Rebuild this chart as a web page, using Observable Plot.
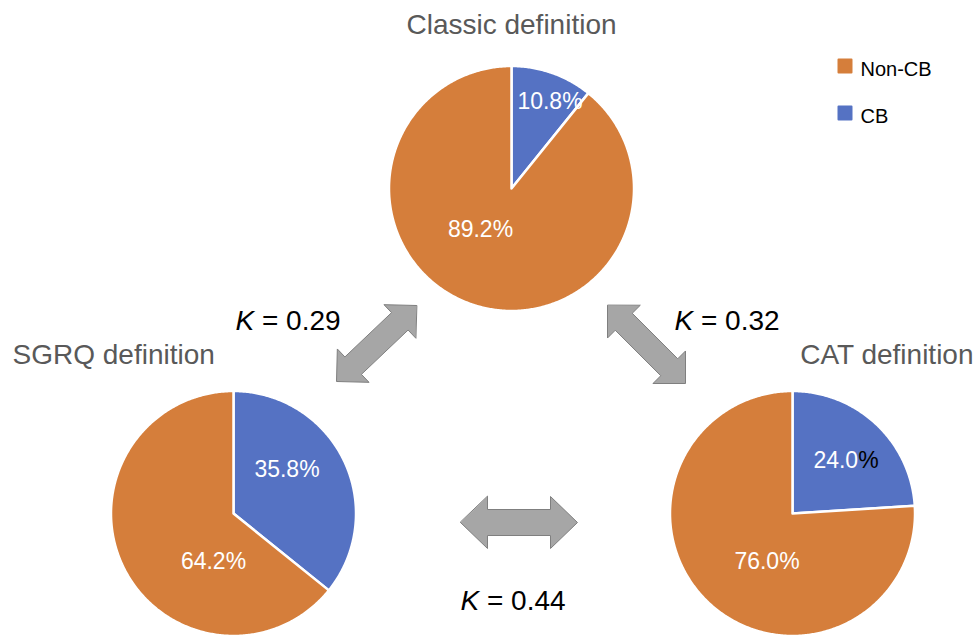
<!DOCTYPE html>
<html>
<head>
<meta charset="utf-8">
<script src="https://cdn.jsdelivr.net/npm/d3@7"></script>
<script src="https://cdn.jsdelivr.net/npm/@observablehq/plot@0.6"></script>
<style>
  html, body { margin: 0; padding: 0; background: #fff; }
  #chart svg { display: block; }
</style>
</head>
<body>
<div id="chart"></div>
<script>
// ---------- data ----------
const definitions = ["Classic definition", "SGRQ definition", "CAT definition"];
const categories = ["CB", "Non-CB"];
const cbPercent = [10.8, 35.8, 24.0];
const nonCbPercent = [89.2, 64.2, 76.0];
const kappaValues = ["0.29", "0.32", "0.44"];
const legendLabels = ["Non-CB", "CB"];

// ---------- layout ----------
const colors = {"CB": "#5572C3", "Non-CB": "#D57E3B"};
const FONT = "'Liberation Sans', Arial, Helvetica, sans-serif";
const R = 122.5;
const pieCenters = [[511, 188], [233, 513], [792, 513]];
// label anchors (visual centers) [CB, Non-CB] per pie
const labelPos = [
  [[549.5, 101.6], [480, 229.6]],
  [[286.5, 469.6], [213, 561.6]],
  [[845.5, 460.6], [766.5, 561.6]]
];
const splitPercent = [[false, false], [false, false], [true, false]]; // black "%" on CAT CB label
const titlePos = [
  {x: 511, y: 24.2, anchor: "middle"},
  {x: 12, y: 354.2, anchor: "start"},
  {x: 973, y: 354.2, anchor: "end"}
];
const kappaPos = [[235, 321], [674, 321], [460, 601]];
const arrows = [
  {p0: [416, 305], p1: [336, 381], hl: 23, hh: 23, sh: 12},
  {p0: [607, 305], p1: [685, 383], hl: 23, hh: 23, sh: 12},
  {p0: [460, 522], p1: [577, 522], hl: 27, hh: 26, sh: 13}
];
const legendPos = [[837, 58], [837, 105]]; // top-left of squares
const LABEL_FS = 23, TITLE_FS = 28, K_FS = 28, LEG_FS = 20;

// ---------- geometry ----------
function slicePolygon(cx, cy, r, a0, a1) {
  const ring = [[cx, cy]];
  const n = Math.max(2, Math.ceil((a1 - a0) / 0.01));
  for (let i = 0; i <= n; i++) {
    const a = a0 + (a1 - a0) * i / n;
    ring.push([cx + r * Math.sin(a), cy - r * Math.cos(a)]);
  }
  ring.push([cx, cy]);
  return ring;
}

const slices = [];
definitions.forEach((def, i) => {
  const vals = [cbPercent[i], nonCbPercent[i]];
  const arcs = d3.pie().sort(null).startAngle(0).endAngle(2 * Math.PI)(vals);
  arcs.forEach((a, j) => {
    const [cx, cy] = pieCenters[i];
    slices.push({
      type: "Feature",
      properties: {def, category: categories[j], value: vals[j]},
      geometry: {type: "Polygon", coordinates: [slicePolygon(cx, cy, R, a.startAngle, a.endAngle)]}
    });
  });
});

const labels = [];
definitions.forEach((def, i) => {
  const vals = [cbPercent[i], nonCbPercent[i]];
  vals.forEach((v, j) => {
    const [x, y] = labelPos[i][j];
    const num = v.toFixed(1);
    if (splitPercent[i][j]) {
      const numW = (num.length === 4 ? 1.946 : 2.502) * LABEL_FS;
      const fullW = numW + 0.889 * LABEL_FS;
      const numEnd = x - fullW / 2 + numW;
      labels.push({x: numEnd, y, text: num, fill: "white", anchor: "end"});
      labels.push({x: numEnd, y, text: "%", fill: "black", anchor: "start"});
    } else {
      labels.push({x, y, text: num + "%", fill: "white", anchor: "middle"});
    }
  });
});

function arrowPolygon({p0, p1, hl, hh, sh}) {
  const dx = p1[0] - p0[0], dy = p1[1] - p0[1];
  const L = Math.hypot(dx, dy);
  const u = [dx / L, dy / L], n = [-u[1], u[0]];
  const P = (p, a, b) => [p[0] + u[0] * a + n[0] * b, p[1] + u[1] * a + n[1] * b];
  const ring = [
    p0,
    P(p0, hl, hh), P(p0, hl, sh),
    P(p1, -hl, sh), P(p1, -hl, hh),
    p1,
    P(p1, -hl, -hh), P(p1, -hl, -sh),
    P(p0, hl, -sh), P(p0, hl, -hh),
    p0
  ];
  return {type: "Feature", properties: {}, geometry: {type: "Polygon", coordinates: [ring]}};
}
const arrowShapes = arrows.map(arrowPolygon);

const legendSquares = legendLabels.map((lab, i) => {
  const [x, y] = legendPos[i];
  const s = 13, o = 1;
  const ring = [[x + o, y + o], [x + o + s, y + o], [x + o + s, y + o + s], [x + o, y + o + s], [x + o, y + o]];
  return {type: "Feature", properties: {category: lab}, geometry: {type: "Polygon", coordinates: [ring]}};
});
const legendText = legendLabels.map((lab, i) => ({x: legendPos[i][0] + 23, y: legendPos[i][1] + 10.6, text: lab}));

const titles = definitions.map((d, i) => ({...titlePos[i], text: d}));
const kappaK = kappaValues.map((v, i) => ({x: kappaPos[i][0], y: kappaPos[i][1]}));
const kappaRest = kappaValues.map((v, i) => ({x: kappaPos[i][0] + 0.945 * K_FS, y: kappaPos[i][1], text: "= " + v}));

const labelMarks = ["middle", "start", "end"].map(anchor =>
  Plot.text(labels.filter(d => d.anchor === anchor), {x: "x", y: "y", text: "text", fill: d => d.fill, textAnchor: anchor, fontSize: LABEL_FS})
);
const titleMarks = ["middle", "start", "end"].map(anchor =>
  Plot.text(titles.filter(t => t.anchor === anchor), {x: "x", y: "y", text: "text", fill: "#595959", fontSize: TITLE_FS, textAnchor: anchor})
);

const plot = Plot.plot({
  width: 974,
  height: 635,
  margin: 0,
  projection: d3.geoIdentity(),
  style: {fontFamily: FONT, background: "white", overflow: "visible"},
  marks: [
    Plot.geo(slices, {fill: d => colors[d.properties.category], stroke: "white", strokeWidth: 2.5, strokeLinejoin: "round"}),
    Plot.geo(arrowShapes, {fill: "#A6A6A6", stroke: "#7F7F7F", strokeWidth: 1}),
    Plot.geo(legendSquares, {fill: d => colors[d.properties.category], stroke: d => colors[d.properties.category], strokeWidth: 2, strokeLinejoin: "round"}),
    ...labelMarks,
    ...titleMarks,
    Plot.text(kappaK, {x: "x", y: "y", text: () => "K", fill: "black", fontSize: K_FS, fontStyle: "italic", textAnchor: "start"}),
    Plot.text(kappaRest, {x: "x", y: "y", text: "text", fill: "black", fontSize: K_FS, textAnchor: "start"}),
    Plot.text(legendText, {x: "x", y: "y", text: "text", fill: "black", fontSize: LEG_FS, textAnchor: "start"})
  ]
});
document.getElementById("chart").appendChild(plot);
</script>
</body>
</html>
